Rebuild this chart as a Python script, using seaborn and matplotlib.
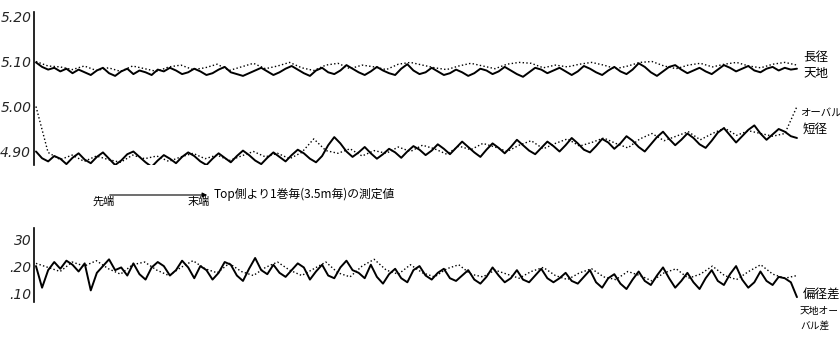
import numpy as np
import matplotlib
matplotlib.use("Agg")
import matplotlib.pyplot as plt
import seaborn as sns

# 長径 / 天地 (上段, mm)
long_solid = [
    5.098, 5.088, 5.082, 5.086, 5.078, 5.084, 5.074, 5.082, 5.076, 5.070,
    5.080, 5.086, 5.074, 5.068, 5.078, 5.084, 5.072, 5.080, 5.076, 5.070,
    5.082, 5.078, 5.086, 5.080, 5.072, 5.076, 5.084, 5.078, 5.070, 5.074,
    5.082, 5.088, 5.076, 5.072, 5.068, 5.074, 5.080, 5.086, 5.078, 5.070,
    5.076, 5.084, 5.090, 5.082, 5.074, 5.068, 5.080, 5.086, 5.076, 5.072,
    5.080, 5.092, 5.084, 5.076, 5.070, 5.078, 5.088, 5.080, 5.074, 5.070,
    5.084, 5.094, 5.080, 5.072, 5.076, 5.086, 5.078, 5.070, 5.074, 5.082,
    5.076, 5.068, 5.074, 5.084, 5.080, 5.072, 5.078, 5.088, 5.080, 5.072,
    5.066, 5.076, 5.086, 5.082, 5.074, 5.080, 5.086, 5.078, 5.070, 5.078,
    5.090, 5.084, 5.076, 5.070, 5.080, 5.088, 5.078, 5.072, 5.082, 5.096,
    5.088, 5.076, 5.068, 5.078, 5.088, 5.092, 5.082, 5.074, 5.080, 5.086,
    5.078, 5.072, 5.082, 5.092, 5.086, 5.078, 5.084, 5.090, 5.080, 5.076,
    5.084, 5.088, 5.080, 5.086, 5.082, 5.084]
long_dot = [
    5.100, 5.090, 5.088, 5.082, 5.090, 5.080, 5.086, 5.078, 5.090, 5.084,
    5.078, 5.088, 5.092, 5.082, 5.086, 5.094, 5.080, 5.088, 5.096, 5.084,
    5.090, 5.098, 5.086, 5.080, 5.092, 5.096, 5.084, 5.092, 5.088, 5.082,
    5.094, 5.098, 5.092, 5.086, 5.082, 5.090, 5.096, 5.090, 5.084, 5.094,
    5.098, 5.096, 5.086, 5.092, 5.088, 5.094, 5.098, 5.092, 5.084, 5.090,
    5.098, 5.100, 5.090, 5.084, 5.092, 5.096, 5.088, 5.094, 5.098, 5.090,
    5.086, 5.094, 5.098, 5.092]

# 短径 / オーバル
short_solid = [
    4.900, 4.885, 4.878, 4.890, 4.884, 4.872, 4.886, 4.896, 4.882, 4.874,
    4.888, 4.898, 4.884, 4.870, 4.880, 4.894, 4.900, 4.888, 4.876, 4.866,
    4.880, 4.892, 4.884, 4.874, 4.888, 4.898, 4.890, 4.878, 4.870, 4.884,
    4.896, 4.886, 4.876, 4.890, 4.902, 4.892, 4.880, 4.872, 4.886, 4.898,
    4.888, 4.878, 4.892, 4.904, 4.896, 4.884, 4.876, 4.890, 4.914, 4.932,
    4.918, 4.900, 4.888, 4.898, 4.910, 4.896, 4.884, 4.894, 4.906, 4.898,
    4.886, 4.900, 4.912, 4.904, 4.892, 4.902, 4.916, 4.906, 4.894, 4.908,
    4.922, 4.910, 4.898, 4.888, 4.904, 4.918, 4.908, 4.896, 4.910, 4.926,
    4.914, 4.902, 4.894, 4.908, 4.922, 4.912, 4.900, 4.914, 4.930, 4.918,
    4.904, 4.898, 4.912, 4.928, 4.920, 4.906, 4.918, 4.934, 4.924, 4.910,
    4.900, 4.916, 4.932, 4.944, 4.928, 4.914, 4.926, 4.940, 4.930, 4.916,
    4.908, 4.924, 4.942, 4.952, 4.936, 4.920, 4.934, 4.948, 4.958, 4.940,
    4.926, 4.938, 4.950, 4.944, 4.934, 4.930]
short_dot = [
    5.000, 4.898, 4.882, 4.892, 4.878, 4.890, 4.882, 4.876, 4.892, 4.884,
    4.890, 4.878, 4.888, 4.896, 4.884, 4.892, 4.880, 4.890, 4.900, 4.888,
    4.896, 4.884, 4.898, 4.928, 4.902, 4.896, 4.906, 4.890, 4.902, 4.896,
    4.910, 4.900, 4.914, 4.906, 4.894, 4.912, 4.904, 4.918, 4.910, 4.900,
    4.914, 4.924, 4.906, 4.918, 4.928, 4.912, 4.920, 4.930, 4.918, 4.908,
    4.928, 4.940, 4.924, 4.934, 4.944, 4.926, 4.940, 4.952, 4.936, 4.946,
    4.940, 4.934, 4.940, 5.000]

# 偏径差 / 天地オーバル差 (下段)
ecc_solid = [
    20.0, 12.0, 18.5, 21.5, 19.0, 22.0, 20.5, 18.0, 21.0, 11.0,
    17.5, 20.0, 22.5, 18.5, 19.5, 16.5, 21.0, 17.0, 15.0, 19.5,
    21.5, 20.0, 16.5, 18.5, 22.0, 19.5, 15.5, 20.0, 18.5, 15.0,
    17.5, 21.5, 20.5, 16.5, 14.5, 19.0, 23.0, 18.5, 17.0, 20.5,
    17.5, 16.0, 18.5, 21.0, 19.5, 15.0, 18.0, 20.5, 16.5, 15.5,
    19.5, 22.0, 18.5, 17.5, 15.5, 20.5, 16.0, 13.5, 17.0, 19.0,
    15.5, 14.0, 18.5, 20.0, 16.5, 15.0, 17.5, 19.0, 15.5, 14.5,
    16.5, 18.5, 15.0, 13.5, 16.0, 19.5, 16.5, 14.0, 15.5, 18.5,
    15.0, 14.0, 16.5, 19.0, 15.5, 14.0, 15.5, 17.5, 14.5, 13.5,
    16.0, 18.5, 14.0, 12.0, 15.5, 17.0, 13.5, 11.5, 15.0, 18.0,
    14.5, 13.0, 16.5, 19.5, 15.5, 12.0, 14.5, 17.5, 14.0, 11.5,
    15.5, 18.5, 14.5, 13.0, 17.0, 20.0, 15.0, 12.0, 14.0, 18.0,
    14.5, 13.0, 16.0, 15.5, 14.0, 8.5]
ecc_dot = [
    21.0, 19.5, 18.0, 21.5, 20.0, 22.0, 19.0, 17.0, 20.5, 21.5,
    18.5, 16.5, 19.5, 22.0, 19.0, 17.5, 21.0, 18.0, 16.5, 19.5,
    21.5, 18.5, 16.5, 19.0, 21.5, 17.5, 16.0, 20.0, 22.5, 18.5,
    17.0, 20.5, 17.5, 16.0, 19.0, 20.5, 17.0, 16.0, 18.5, 17.0,
    15.5, 18.0, 19.5, 16.5, 15.0, 17.5, 19.0, 16.0, 15.0, 18.0,
    16.5, 14.5, 17.5, 19.0, 15.5, 17.0, 20.0, 16.5, 15.0, 18.0,
    20.5, 17.0, 15.5, 16.5]

upper_ticks = [5.20, 5.10, 5.00, 4.90]
upper_labels = ["5.20", "5.10", "5.00", "4.90"]
lower_ticks = [30, 20, 10]
lower_labels = ["30", ".20", ".10"]

sns.set_style("white")
plt.rcParams["font.family"] = ["Noto Sans CJK JP", "DejaVu Sans"]

W, H = 840, 338
fig = plt.figure(figsize=(W / 100, H / 100), dpi=100)


def px_axes(left, top, right, bottom):
    return fig.add_axes([left / W, 1 - bottom / H, (right - left) / W, (bottom - top) / H])


def xs(vals):
    # position along the coil, 0-100 %
    return np.linspace(0, 100, len(vals))


ax1 = px_axes(34, 12, 800, 165)
ax2 = px_axes(34, 228, 800, 302)

for ax, solid, dot in [(ax1, long_solid, long_dot), (ax1, short_solid, short_dot), (ax2, ecc_solid, ecc_dot)]:
    sns.lineplot(x=xs(dot), y=dot, ax=ax, color="black", lw=1.0, linestyle=":")
    sns.lineplot(x=xs(solid), y=solid, ax=ax, color="black", lw=1.4)

ax1.set_ylim(4.87, 5.21)
ax2.set_ylim(6.7, 34.1)
for ax, t, lab in [(ax1, upper_ticks, upper_labels), (ax2, lower_ticks, lower_labels)]:
    ax.set_xlim(-0.26, 100.4)
    ax.set_yticks(t)
    ax.set_yticklabels(lab, fontstyle="italic", fontsize=10, family="DejaVu Sans")
    ax.set_xticks([])
    for s in ["top", "right", "bottom"]:
        ax.spines[s].set_visible(False)
    ax.spines["left"].set_color("black")
    ax.spines["left"].set_linewidth(1.2)
    ax.tick_params(axis="y", direction="in", length=5, width=1.2, color="black", pad=2)
    ax.set_facecolor("none")


# right-hand labels
def ftext(x, y, s, **kw):
    fig.text(x / W, 1 - y / H, s, va="center", ha="left", color="black", **kw)


ftext(803, 57, "長径", fontsize=9)
ftext(803, 73, "天地", fontsize=9)
ftext(800, 113, "オーバル", fontsize=7.5)
ftext(803, 129, "短径", fontsize=9)
ftext(803, 294, "偏径差", fontsize=9)
ftext(800, 311, "天地オー", fontsize=7)
ftext(800, 326, "バル差", fontsize=7)

# arrow and caption
fig.add_artist(matplotlib.patches.FancyArrowPatch(
    (107 / W, 1 - 195 / H), (210 / W, 1 - 195 / H), transform=fig.transFigure,
    arrowstyle="-|>", mutation_scale=7, lw=0.8, color="black"))
ftext(93, 202, "先端", fontsize=8)
ftext(188, 202, "末端", fontsize=8)
ftext(214, 194, "Top側より1巻毎(3.5m毎)の測定値", fontsize=8.5)

fig.savefig("out.png", dpi=100, facecolor="white")
